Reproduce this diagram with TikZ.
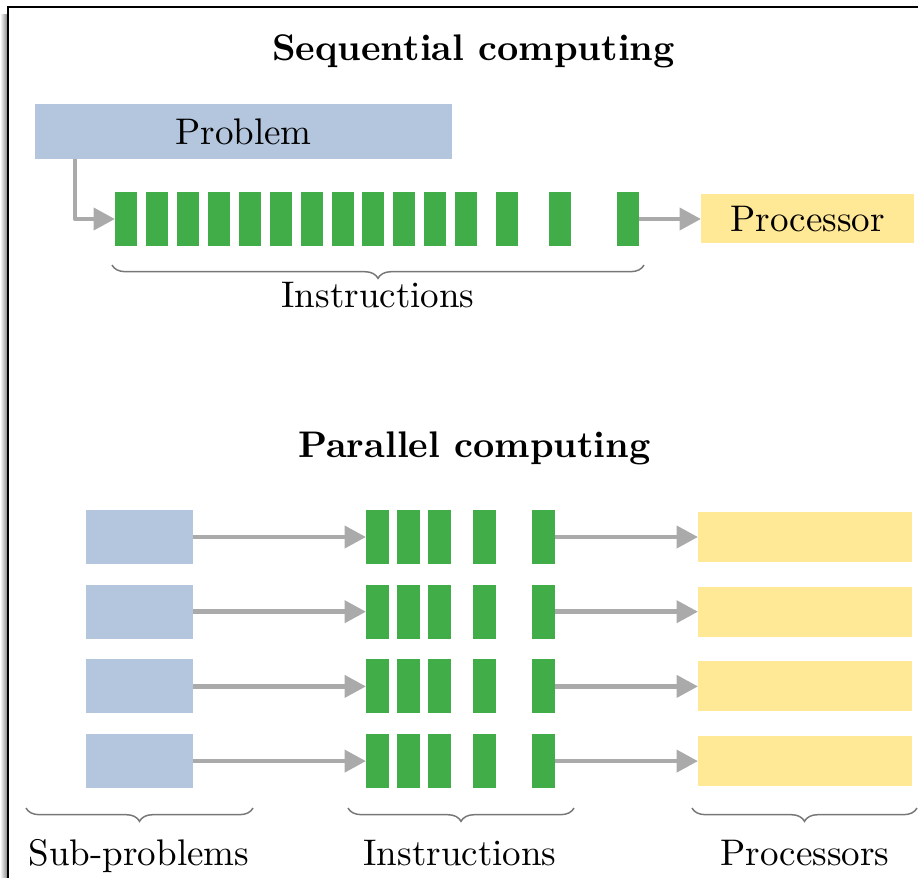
\documentclass[tikz,border=0pt]{standalone}
\usetikzlibrary{arrows.meta,decorations.pathreplacing}
\definecolor{probblue}{HTML}{B3C6DD}
\definecolor{instgreen}{HTML}{40AD48}
\definecolor{procyellow}{HTML}{FFE996}
\definecolor{arrgray}{HTML}{AAAAAA}
\definecolor{bracegray}{HTML}{777777}
\tikzset{
  box/.style={inner sep=0pt, outer sep=0pt, anchor=north west, text depth=0pt},
  probbox/.style={box, fill=probblue},
  instbox/.style={box, fill=instgreen, minimum width=22*0.27pt, minimum height=54*0.27pt},
  procbox/.style={box, fill=procyellow},
  flow/.style={draw=arrgray, line width=1.25pt, line join=round,
    -{Triangle[length=5.8pt,width=5.9pt]}},
  grouping/.style={draw=bracegray, line width=0.4pt,
    decorate, decoration={brace, mirror, amplitude=3.6pt}},
  title/.style={anchor=base, font=\bfseries},
  caption/.style={anchor=base},
}
\begin{document}
\begin{tikzpicture}[x=0.27pt, y=-0.27pt]
\useasboundingbox (0,0) rectangle (918,878);

% page frame with its shadow on the left
\shade[left color=white, right color=black!45] (0,14) rectangle (7,878);
\draw[line width=0.6pt] (8,878) -- (8,7) -- (918,7);

% ---------- sequential computing ----------
\node[title] (seqtitle) at (473.5,60) {Sequential computing};

\node[probbox, minimum width=417*0.27pt, minimum height=55*0.27pt] (prob) at (35,104) {Problem};

\foreach \i/\x in {1/115,2/146,3/177,4/208,5/239,6/270,7/301,8/332,9/362,10/393,
                   11/424,12/455,13/496,14/549,15/617}
  \node[instbox] (s\i) at (\x,192) {};

\node[procbox, minimum width=213*0.27pt, minimum height=49*0.27pt] (proc) at (701,194) {Processor};

\draw[flow] ([xshift=40*0.27pt]prob.south west) |- (s1.west);
\draw[flow] (s15.east) -- (s15.east -| proc.west);

\coordinate (sbl) at (112,265);
\coordinate (sbr) at (644,265);
\draw[grouping] (sbl) -- (sbr);
\node[caption] (seqinst) at (378,307) {Instructions};

% ---------- parallel computing ----------
\node[title] (partitle) at (474.5,457) {Parallel computing};

\foreach \r/\y in {1/510,2/584.7,3/659.4,4/734.1} {
  \node[probbox, minimum width=107*0.27pt, minimum height=54*0.27pt] (sub\r) at (86,\y) {};
  \foreach \j/\x in {1/366,2/397,3/428,4/473,5/532}
    \node[instbox, minimum width=23*0.27pt] (p\r b\j) at (\x,\y) {};
  \node[procbox, minimum width=214*0.27pt, minimum height=50*0.27pt] (pr\r) at (698,\y+2) {};
  \draw[flow] (sub\r.east) -- (p\r b1.west);
  \draw[flow] (p\r b5.east) -- (pr\r.west);
}

\coordinate (b1l) at (26,808);  \coordinate (b1r) at (253,808);
\coordinate (b2l) at (348,808); \coordinate (b2r) at (574,808);
\coordinate (b3l) at (692,808); \coordinate (b3r) at (917,808);
\draw[grouping] (b1l) -- (b1r);
\draw[grouping] (b2l) -- (b2r);
\draw[grouping] (b3l) -- (b3r);

\node[caption] (subcap) at (139,865) {Sub-problems};
\node[caption] (instcap) at (460,865) {Instructions};
\node[caption] (proccap) at (805,865) {Processors};
\end{tikzpicture}
\end{document}
